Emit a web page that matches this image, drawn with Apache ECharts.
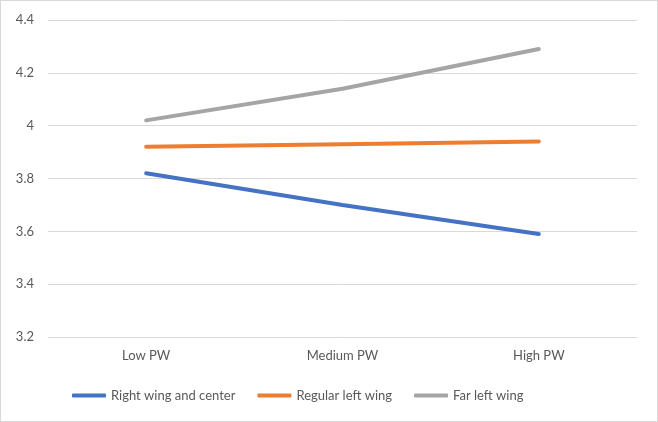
<!DOCTYPE html>
<html>
<head>
<meta charset="utf-8">
<script src="https://cdn.jsdelivr.net/npm/echarts@6/dist/echarts.min.js"></script>
<style>
html,body{margin:0;padding:0;background:#fff;}
#c{width:658px;height:422px;box-sizing:border-box;border:1px solid #d9d9d9;}
</style>
</head>
<body>
<div id="c"></div>
<script>
const categories = ['Low PW', 'Medium PW', 'High PW'];
const rightWing = [3.82, 3.70, 3.59];
const regularLeft = [3.92, 3.93, 3.94];
const farLeft = [4.02, 4.14, 4.29];
const seriesNames = ['Right wing and center', 'Regular left wing', 'Far left wing'];
const colors = ['#4472C4', '#ED7D31', '#A5A5A5'];

const chart = echarts.init(document.getElementById('c'));
const font = 'Lato, "Open Sans", sans-serif';
function mk(name, data, color) {
  return {
    name: name, type: 'line', data: data, showSymbol: false, symbol: 'none',
    lineStyle: {width: 4, color: color, cap: 'round'},
    itemStyle: {color: color},
    emphasis: {disabled: true}
  };
}
chart.setOption({
  animation: false,
  grid: {left: 47, right: 20, top: 19, bottom: 84},
  xAxis: {
    type: 'category', data: categories, boundaryGap: true,
    axisLine: {show: false}, axisTick: {show: false},
    axisLabel: {color: '#595959', fontFamily: font, fontSize: 13, margin: 12}
  },
  yAxis: {
    type: 'value', min: 3.2, max: 4.4, interval: 0.2,
    axisLabel: {color: '#595959', fontFamily: font, fontSize: 13, margin: 14,
      formatter: v => String(Math.round(v * 10) / 10)},
    splitLine: {lineStyle: {color: '#d9d9d9', width: 1}},
    axisLine: {show: false}, axisTick: {show: false}
  },
  legend: {
    bottom: 14, left: 66, itemWidth: 34, itemHeight: 4, itemGap: 22,
    icon: 'roundRect',
    textStyle: {color: '#595959', fontFamily: font, fontSize: 13},
    data: seriesNames
  },
  series: [
    mk(seriesNames[0], rightWing, colors[0]),
    mk(seriesNames[1], regularLeft, colors[1]),
    mk(seriesNames[2], farLeft, colors[2])
  ]
});
</script>
</body>
</html>
